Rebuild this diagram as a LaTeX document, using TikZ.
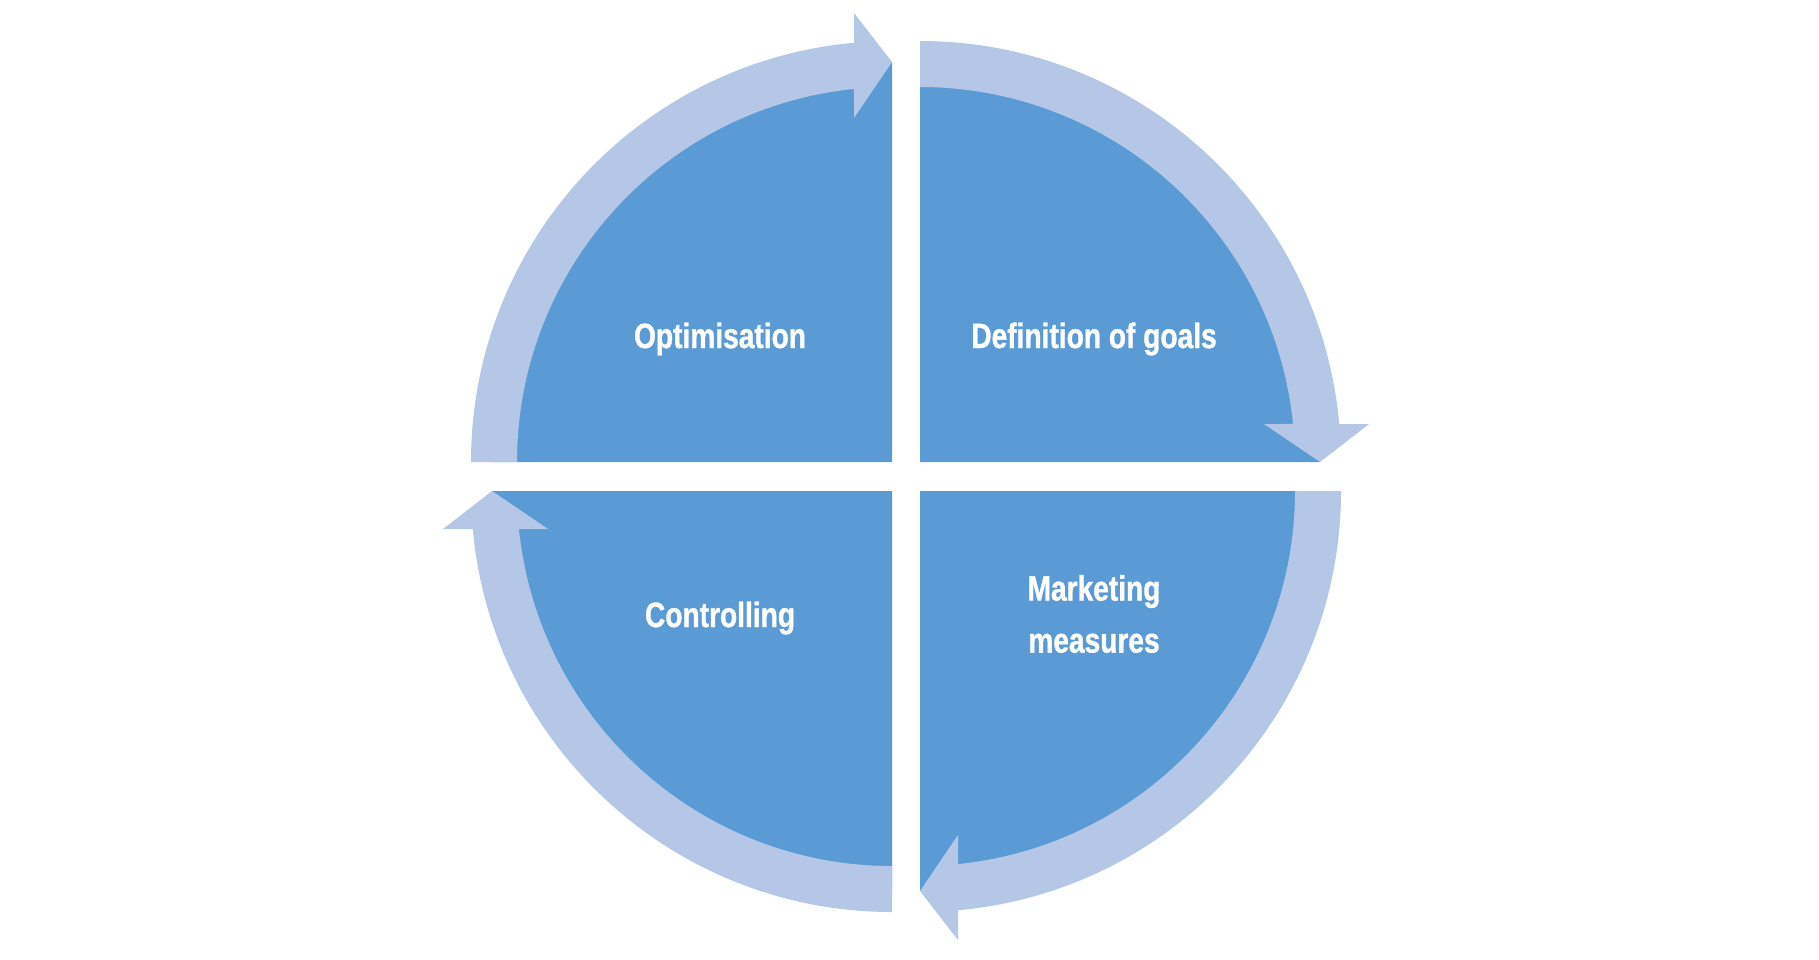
\documentclass[tikz,border=0pt]{standalone}
\usepackage{fontspec}
\newfontfamily\cyclefont{Liberation Sans}[FakeStretch=0.80,FakeBold=1]
\definecolor{quadblue}{HTML}{5B9BD5}
\definecolor{ringblue}{HTML}{B4C7E7}
\begin{document}
\begin{tikzpicture}[x=0.01cm,y=0.01cm,
 quad/.style={fill=quadblue},
 ring/.style={fill=ringblue},
 lbl/.style={text=white,font=\cyclefont\bfseries\fontsize{10}{14.8}\selectfont,align=center,inner sep=0pt}]
 \useasboundingbox (0,0) rectangle (1819,959);
 \fill[quad,shift={(892,497)}](0,0)--(0,400) arc[start angle=90,end angle=180,radius=400]--cycle;
 \fill[quad,shift={(920,497)},rotate=-90](0,0)--(0,400) arc[start angle=90,end angle=180,radius=400]--cycle;
 \fill[quad,shift={(920,468)},rotate=-180](0,0)--(0,400) arc[start angle=90,end angle=180,radius=400]--cycle;
 \fill[quad,shift={(892,468)},rotate=90](0,0)--(0,400) arc[start angle=90,end angle=180,radius=400]--cycle;
 \fill[ring,shift={(892,497)}](180:375)--(180:421) arc[start angle=180,end angle=95.18,radius=421]--(-38,449)--(0,400)--(-38,344)--(95.82:375) arc[start angle=95.82,end angle=180,radius=375]--cycle;
 \fill[ring,shift={(920,497)},rotate=-90](180:375)--(180:421) arc[start angle=180,end angle=95.18,radius=421]--(-38,449)--(0,400)--(-38,344)--(95.82:375) arc[start angle=95.82,end angle=180,radius=375]--cycle;
 \fill[ring,shift={(920,468)},rotate=-180](180:375)--(180:421) arc[start angle=180,end angle=95.18,radius=421]--(-38,449)--(0,400)--(-38,344)--(95.82:375) arc[start angle=95.82,end angle=180,radius=375]--cycle;
 \fill[ring,shift={(892,468)},rotate=90](180:375)--(180:421) arc[start angle=180,end angle=95.18,radius=421]--(-38,449)--(0,400)--(-38,344)--(95.82:375) arc[start angle=95.82,end angle=180,radius=375]--cycle;
 \node[lbl,anchor=base] (optim) at (720,611) {Optimisation};
 \node[lbl,anchor=base] (goals) at (1094,611) {Definition of goals};
 \node[lbl,anchor=base] (ctrl) at (720,332) {Controlling};
 \node[lbl] (measures) at (1094,345) {Marketing\\measures};
\end{tikzpicture}
\end{document}
